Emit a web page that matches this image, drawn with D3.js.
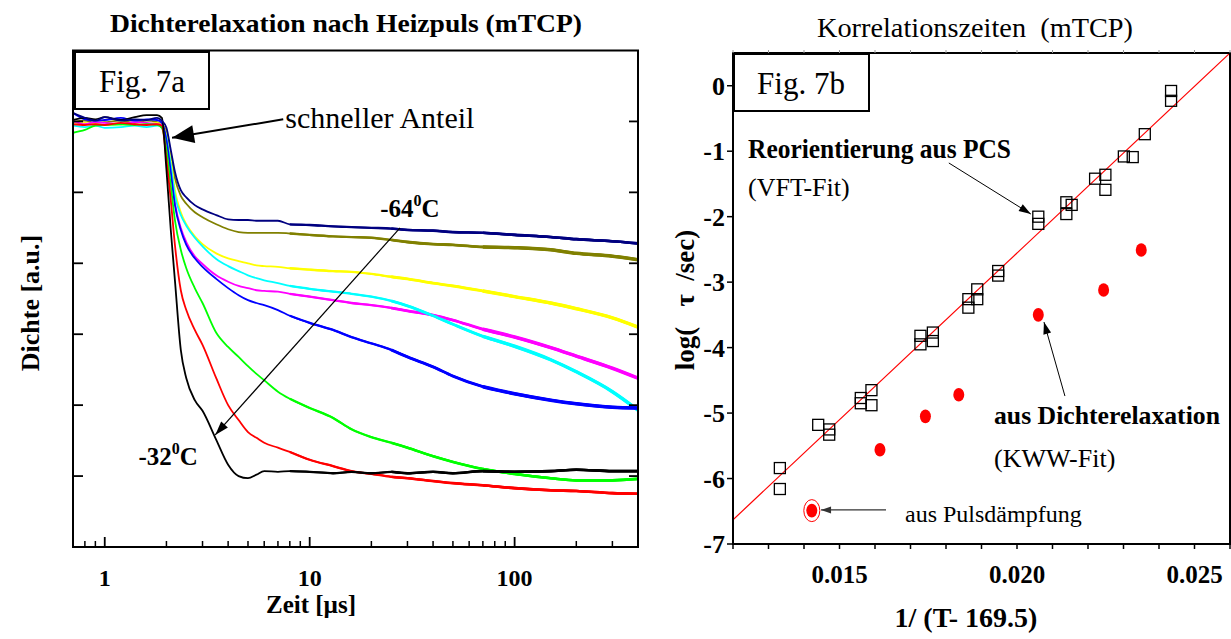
<!DOCTYPE html>
<html><head><meta charset="utf-8">
<script src="https://cdn.jsdelivr.net/npm/d3@7"></script>
<style>
body{margin:0;background:#fff}
svg{display:block}
text{font-family:"Liberation Serif","Times New Roman",serif;fill:#000}
</style>
</head><body>
<svg id="c" width="1231" height="639"></svg>
<script>
// ---------------- Data: Fig. 7a (density relaxation) ----------------
const times = [0.7,0.8,0.9,1,1.2,1.4,1.6,1.8,1.9,2.0,2.1,2.2,2.35,2.5,2.75,3,3.5,4,4.5,5,5.5,6,7,8,10,13,16,20,25,30,40,50,70,100,150,200,300,400];
const curveColors = ["#808000","#ffff00","#ff00ff","#00ffff","#0000ff","#00ff00","#ff0000","#000000","#000080"];
const oliveValues   = [5.99,6.01,5.98,5.99,6.01,5.98,6.01,5.99,5.96,5.85,5.53,5.20,4.95,4.84,4.72,4.65,4.55,4.48,4.44,4.43,4.43,4.43,4.43,4.42,4.40,4.38,4.37,4.36,4.33,4.30,4.27,4.26,4.23,4.22,4.19,4.14,4.10,4.05];
const yellowValues  = [5.95,5.98,5.96,5.95,5.96,5.95,5.96,5.98,5.95,5.81,5.46,5.03,4.72,4.55,4.38,4.27,4.14,4.07,4.03,4.00,3.97,3.96,3.95,3.93,3.91,3.89,3.88,3.85,3.81,3.78,3.72,3.68,3.61,3.53,3.44,3.36,3.23,3.10];
const magentaValues = [6.01,5.96,5.99,5.98,5.96,5.99,5.98,5.96,5.95,5.72,5.32,4.85,4.50,4.30,4.10,3.99,3.83,3.74,3.68,3.65,3.62,3.61,3.60,3.57,3.53,3.48,3.44,3.41,3.37,3.33,3.27,3.20,3.07,2.96,2.81,2.69,2.52,2.38];
const cyanValues    = [5.94,5.92,5.94,5.91,5.92,5.94,5.92,5.94,5.92,5.77,5.39,4.96,4.68,4.53,4.36,4.24,4.06,3.96,3.89,3.83,3.79,3.76,3.72,3.68,3.64,3.60,3.57,3.53,3.47,3.40,3.26,3.14,2.97,2.83,2.64,2.47,2.19,1.93];
const blueValues    = [6.12,6.03,6.01,6.02,6.05,6.01,6.03,6.02,5.98,5.74,5.29,4.82,4.47,4.26,4.07,3.95,3.78,3.65,3.55,3.48,3.44,3.41,3.34,3.26,3.16,3.06,2.96,2.87,2.78,2.68,2.54,2.41,2.26,2.16,2.07,2.02,1.97,1.96];
const greenValues   = [5.84,5.88,5.94,5.95,5.96,5.95,5.96,5.95,5.91,5.60,5.10,4.61,4.19,3.93,3.65,3.44,3.02,2.82,2.68,2.55,2.44,2.35,2.19,2.09,1.96,1.82,1.66,1.55,1.47,1.40,1.28,1.20,1.10,1.03,0.97,0.94,0.94,0.96];
const redValues     = [5.96,5.95,5.96,5.95,5.98,5.96,5.95,5.96,5.94,5.46,4.89,4.26,3.62,3.34,3.06,2.85,2.38,2.00,1.79,1.62,1.54,1.47,1.40,1.34,1.23,1.14,1.07,1.03,0.99,0.97,0.93,0.90,0.87,0.83,0.80,0.79,0.76,0.75];
const blackValues   = [6.02,6.05,6.03,6.06,6.02,6.06,6.09,6.09,6.05,5.32,4.47,3.76,2.78,2.38,2.07,1.92,1.51,1.16,1.00,0.97,1.02,1.07,1.06,1.07,1.06,1.04,1.06,1.04,1.06,1.04,1.06,1.04,1.07,1.06,1.07,1.09,1.07,1.07];
const navyValues    = [6.12,6.05,6.01,6.06,6.01,6.03,6.02,6.05,6.01,5.91,5.60,5.29,5.03,4.93,4.82,4.76,4.68,4.62,4.61,4.61,4.60,4.60,4.60,4.55,4.54,4.52,4.51,4.50,4.49,4.47,4.46,4.44,4.43,4.40,4.37,4.34,4.31,4.28];
const curveValues = [oliveValues,yellowValues,magentaValues,cyanValues,blueValues,greenValues,redValues,blackValues,navyValues];
const xMinorTicks = [0.7,0.8,0.9,2,3,4,5,6,7,8,9,20,30,40,50,60,70,80,90,200,300];
const xMajorTicks = [1,10,100];
const xTickLabels = ["1","10","100"];
const yTicksLeft = [1,2,3,4,5,6];

// ---------------- Data: Fig. 7b (correlation times) ----------------
const pcsX = [0.01332,0.01332,0.0144,0.01471,0.01471,0.0156,0.0156,0.0159,0.0159,0.01728,0.01728,0.01763,0.01763,0.01863,0.01863,0.01888,0.01888,0.01947,0.01947,0.0206,0.0206,0.02139,0.02139,0.02154,0.0222,0.02249,0.02249,0.02301,0.02326,0.0236,0.02434,0.02434];
const pcsY = [-5.84,-6.16,-5.18,-5.25,-5.33,-4.77,-4.85,-4.65,-4.88,-3.82,-3.95,-3.77,-3.90,-3.26,-3.39,-3.11,-3.26,-2.83,-2.90,-2.00,-2.11,-1.78,-1.96,-1.82,-1.42,-1.36,-1.59,-1.08,-1.09,-0.74,-0.08,-0.23];
const densX = [0.01614,0.01742,0.01836,0.0206,0.02244,0.0235];
const densY = [-5.56,-5.05,-4.72,-3.50,-3.12,-2.51];
const pulseX = [0.01422];
const pulseY = [-6.49];
const fitX = [0.012,0.026];
const fitY = [-6.63,0.5];
const rXTicks = [0.012,0.013,0.014,0.015,0.016,0.017,0.018,0.019,0.020,0.021,0.022,0.023,0.024,0.025,0.026];
const rXLabels = [0.015,0.020,0.025];
const rYTicks = [0,-1,-2,-3,-4,-5,-6,-7];

const svg = d3.select("#c");

// ================= LEFT CHART =================
const L = {l:73, r:638, t:50.5, b:547};
const xL = d3.scaleLog().domain([0.7,400]).range([L.l,L.r]);
const yL = d3.scaleLinear().domain([0,7]).range([L.b,L.t]);

svg.append("text").attr("x",346).attr("y",32).attr("text-anchor","middle")
  .attr("font-size",26).attr("font-weight","bold")
  .attr("textLength",472).attr("lengthAdjust","spacingAndGlyphs")
  .text("Dichterelaxation nach Heizpuls (mTCP)");

svg.append("defs").append("clipPath").attr("id","clipL")
  .append("rect").attr("x",L.l).attr("y",L.t).attr("width",L.r-L.l).attr("height",L.b-L.t);

const gCurves = svg.append("g").attr("clip-path","url(#clipL)");
const line = d3.line().x(d=>xL(d[0])).y(d=>yL(d[1])).curve(d3.curveMonotoneX);
// noise band gets wider at long times: overlay stages (from time, width)
const bandStages = [[8,2.3],[25,2.9],[60,3.5]];
curveValues.forEach((vals,i)=>{
  const pts = times.map((t,j)=>[t,vals[j]]);
  gCurves.append("path").attr("d",line(pts)).attr("fill","none")
    .attr("stroke",curveColors[i]).attr("stroke-width",1.8).attr("stroke-linejoin","round");
  bandStages.forEach(([t0,w])=>{
    gCurves.append("path").attr("d",line(pts.filter(p=>p[0]>=t0))).attr("fill","none")
      .attr("stroke",curveColors[i]).attr("stroke-width",i>=5?Math.min(w,2.6):w).attr("stroke-linejoin","round");
  });
});

// frame
svg.append("rect").attr("x",L.l).attr("y",L.t).attr("width",L.r-L.l).attr("height",L.b-L.t)
  .attr("fill","none").attr("stroke","#000").attr("stroke-width",2);

// x ticks (inside)
const gx = svg.append("g");
xMinorTicks.forEach(t=>gx.append("line").attr("x1",xL(t)).attr("x2",xL(t)).attr("y1",L.b).attr("y2",L.b-6).attr("stroke","#000").attr("stroke-width",1.5));
xMajorTicks.forEach((t,i)=>{
  gx.append("line").attr("x1",xL(t)).attr("x2",xL(t)).attr("y1",L.b).attr("y2",L.b-10).attr("stroke","#000").attr("stroke-width",1.8);
  gx.append("text").attr("x",xL(t)).attr("y",586).attr("text-anchor","middle").attr("font-size",24).attr("font-weight","bold").text(xTickLabels[i]);
});
yTicksLeft.forEach(v=>{
  gx.append("line").attr("x1",L.l).attr("x2",L.l+10).attr("y1",yL(v)).attr("y2",yL(v)).attr("stroke","#000").attr("stroke-width",1.8);
  gx.append("line").attr("x1",L.r).attr("x2",L.r-9).attr("y1",yL(v)).attr("y2",yL(v)).attr("stroke","#000").attr("stroke-width",1.8);
});
svg.append("text").attr("x",311).attr("y",613).attr("text-anchor","middle").attr("font-size",25).attr("font-weight","bold").text("Zeit [µs]");
svg.append("text").attr("transform","translate(39,303) rotate(-90)").attr("text-anchor","middle")
  .attr("font-size",26).attr("font-weight","bold").text("Dichte [a.u.]");

// Fig. 7a box
svg.append("rect").attr("x",75).attr("y",52).attr("width",134).attr("height",57).attr("fill","#fff").attr("stroke","#000").attr("stroke-width",2);
svg.append("text").attr("x",142).attr("y",92).attr("text-anchor","middle").attr("font-size",31).text("Fig. 7a");

// annotations
function arrow(g,x1,y1,x2,y2,len,wid,sw,color){
  g.append("line").attr("x1",x1).attr("y1",y1).attr("x2",x2).attr("y2",y2).attr("stroke",color).attr("stroke-width",sw);
  const a = Math.atan2(y2-y1,x2-x1);
  const bx = x2-len*Math.cos(a), by = y2-len*Math.sin(a);
  const px = -Math.sin(a)*wid/2, py = Math.cos(a)*wid/2;
  g.append("path").attr("d",`M${x2},${y2}L${bx+px},${by+py}L${bx-px},${by-py}Z`).attr("fill",color);
}
const ga = svg.append("g");
arrow(ga, xL(7.43), yL(6.03), xL(2.13), yL(5.77), 22, 18, 2, "#000");
svg.append("text").attr("x",xL(7.6)).attr("y",128).attr("font-size",30).text("schneller Anteil");
arrow(ga, xL(27.6), yL(4.50), xL(3.46), yL(1.58), 14, 9, 1.2, "#000");
const t64 = svg.append("text").attr("x",xL(22.1)).attr("y",217).attr("font-size",25).attr("font-weight","bold");
t64.append("tspan").text("-64");
t64.append("tspan").attr("font-size",16).attr("dy",-11).text("0");
t64.append("tspan").attr("dy",11).text("C");
const t32 = svg.append("text").attr("x",xL(1.46)).attr("y",465).attr("font-size",25).attr("font-weight","bold");
t32.append("tspan").text("-32");
t32.append("tspan").attr("font-size",16).attr("dy",-11).text("0");
t32.append("tspan").attr("dy",11).text("C");

// ================= RIGHT CHART =================
const R = {l:733, r:1230, t:53, b:544};
const xR = d3.scaleLinear().domain([0.012,0.026]).range([R.l,R.r]);
const yR = d3.scaleLinear().domain([-7,0.5]).range([R.b,R.t]);

svg.append("text").attr("x",975).attr("y",37).attr("text-anchor","middle").attr("font-size",28)
  .attr("textLength",316).attr("lengthAdjust","spacingAndGlyphs").text("Korrelationszeiten\u00a0\u00a0(mTCP)");

svg.append("defs").append("clipPath").attr("id","clipR")
  .append("rect").attr("x",R.l).attr("y",R.t).attr("width",R.r-R.l).attr("height",R.b-R.t);
const gR = svg.append("g").attr("clip-path","url(#clipR)");
gR.append("line").attr("x1",xR(fitX[0])).attr("y1",yR(fitY[0])).attr("x2",xR(fitX[1])).attr("y2",yR(fitY[1]))
  .attr("stroke","#ff0000").attr("stroke-width",1.2);

pcsX.forEach((x,i)=>{
  gR.append("rect").attr("x",xR(x)-5.5).attr("y",yR(pcsY[i])-5.5).attr("width",11).attr("height",11)
    .attr("fill","none").attr("stroke","#000").attr("stroke-width",1.3);
});
densX.forEach((x,i)=>{
  gR.append("ellipse").attr("cx",xR(x)).attr("cy",yR(densY[i])).attr("rx",5.5).attr("ry",6.8).attr("fill","#ff0000");
});
pulseX.forEach((x,i)=>{
  gR.append("ellipse").attr("cx",xR(x)).attr("cy",yR(pulseY[i])).attr("rx",5.5).attr("ry",6.8).attr("fill","#ff0000");
  gR.append("ellipse").attr("cx",xR(x)).attr("cy",yR(pulseY[i])).attr("rx",8).attr("ry",11).attr("fill","none").attr("stroke","#ff0000").attr("stroke-width",1);
});

// frame
svg.append("rect").attr("x",R.l).attr("y",R.t).attr("width",R.r-R.l).attr("height",R.b-R.t)
  .attr("fill","none").attr("stroke","#000").attr("stroke-width",2);
rXTicks.forEach(v=>{
  svg.append("line").attr("x1",xR(v)).attr("x2",xR(v)).attr("y1",R.b).attr("y2",R.b+5).attr("stroke","#000").attr("stroke-width",1.5);
  svg.append("line").attr("x1",xR(v)).attr("x2",xR(v)).attr("y1",R.t).attr("y2",R.t-3).attr("stroke","#999").attr("stroke-width",1);
});
rXLabels.forEach(v=>svg.append("text").attr("x",xR(v)).attr("y",583).attr("text-anchor","middle")
  .attr("font-size",25).attr("font-weight","bold").text(d3.format(".3f")(v)));
rYTicks.forEach(v=>{
  svg.append("line").attr("x1",R.l-6).attr("x2",R.l).attr("y1",yR(v)).attr("y2",yR(v)).attr("stroke","#000").attr("stroke-width",1.5);
  svg.append("text").attr("x",R.l-8).attr("y",yR(v)+9).attr("text-anchor","end").attr("font-size",26).attr("font-weight","bold").text(v===0?"0":String(v));
});
svg.append("text").attr("x",966).attr("y",627).attr("text-anchor","middle").attr("font-size",28).attr("font-weight","bold").text("1/ (T- 169.5)");
svg.append("text").attr("transform","translate(694,300) rotate(-90)").attr("text-anchor","middle")
  .attr("font-size",27).attr("font-weight","bold")
  .text("log(\u00a0\u00a0\u00a0τ\u00a0\u00a0/sec)");

// Fig 7b box
svg.append("rect").attr("x",734).attr("y",54).attr("width",135).attr("height",57).attr("fill","#fff").attr("stroke","#000").attr("stroke-width",2);
svg.append("text").attr("x",801).attr("y",94).attr("text-anchor","middle").attr("font-size",31).text("Fig. 7b");

// annotations
svg.append("text").attr("x",748).attr("y",158).attr("font-size",28).attr("font-weight","bold")
  .attr("textLength",263).attr("lengthAdjust","spacingAndGlyphs").text("Reorientierung aus PCS");
svg.append("text").attr("x",748).attr("y",196).attr("font-size",26).text("(VFT-Fit)");
svg.append("text").attr("x",994).attr("y",424).attr("font-size",26).attr("font-weight","bold")
  .attr("textLength",226).attr("lengthAdjust","spacingAndGlyphs").text("aus Dichterelaxation");
svg.append("text").attr("x",994).attr("y",467).attr("font-size",26).text("(KWW-Fit)");
svg.append("text").attr("x",905).attr("y",522).attr("font-size",24).text("aus Pulsdämpfung");
const gb = svg.append("g");
arrow(gb, xR(0.01808), yR(-1.18), xR(0.02039), yR(-1.96), 12, 8, 1, "#000");
arrow(gb, xR(0.02135), yR(-4.74), xR(0.02076), yR(-3.61), 12, 8, 1, "#000");
arrow(gb, xR(0.01631), yR(-6.48), xR(0.01448), yR(-6.48), 10, 7, 1.2, "#333");
</script>
</body></html>
